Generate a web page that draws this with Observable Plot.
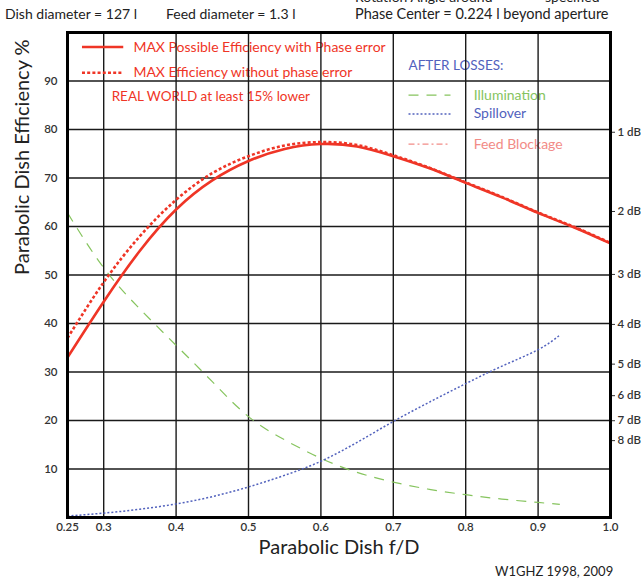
<!DOCTYPE html>
<html>
<head>
<meta charset="utf-8">
<script src="https://cdn.jsdelivr.net/npm/d3@7"></script>
<script src="https://cdn.jsdelivr.net/npm/@observablehq/plot@0.6"></script>
<style>
  html, body { margin: 0; padding: 0; background: #fff; }
  #wrap { position: relative; width: 641px; height: 578px; overflow: hidden; font-family: Lato, sans-serif; }
  .t { position: absolute; white-space: nowrap; color: #222; font-size: 14px; line-height: 1; }
</style>
</head>
<body>
<div id="wrap">
  <div id="chart"></div>
  <div class="t" style="left:355px; top:-10px; line-height:14px; height:14px;">Rotation Angle around</div>
  <div class="t" style="left:545px; top:-10px; line-height:14px; height:14px;">specified</div>
  <div class="t" style="left:5px; top:7px;">Dish diameter = 127 l</div>
  <div class="t" style="left:166px; top:7px;">Feed diameter = 1.3 l</div>
  <div class="t" style="left:355px; top:7px; font-size:14.5px;">Phase Center = 0.224 l beyond aperture</div>
  <div class="t" style="left:495px; top:565px; font-size:13px;">W1GHZ 1998, 2009</div>
</div>
<script>
// ---- data ----
const fd = [0.25, 0.3, 0.35, 0.4, 0.45, 0.5, 0.55, 0.6, 0.65, 0.7, 0.75, 0.8, 0.85, 0.9, 0.95, 1.0];
const effWithPhase = [33, 44.5, 55, 63.5, 69.5, 73.5, 76, 77, 76.5, 74.5, 72, 69, 66, 62.8, 59.8, 56.5];
const effNoPhase   = [37, 48.5, 58, 65.5, 71, 74.5, 76.7, 77.4, 76.8, 74.7, 72.1, 69.1, 66.1, 62.9, 59.9, 56.6];

const fdLoss = [0.25, 0.3, 0.35, 0.4, 0.45, 0.5, 0.55, 0.6, 0.65, 0.7, 0.75, 0.8, 0.85, 0.9, 0.93];
const illumination = [62.8, 51.5, 43, 35.5, 28, 20.8, 16, 12.2, 9.3, 7.3, 5.8, 4.7, 3.8, 3.1, 2.7];
const spillover    = [0.3, 0.9, 1.7, 2.8, 4.3, 6.3, 8.7, 11.6, 15.5, 19.8, 23.8, 27.6, 31.2, 34.6, 37.6];
const blockage     = [0.15, 0.15, 0.15, 0.15, 0.15, 0.15, 0.15, 0.15, 0.15, 0.15, 0.15, 0.15, 0.15, 0.15, 0.15];

const xTicks = [0.25, 0.3, 0.4, 0.5, 0.6, 0.7, 0.8, 0.9, 1.0];
const xTickLabels = ["0.25", "0.3", "0.4", "0.5", "0.6", "0.7", "0.8", "0.9", "1.0"];
const xGrid = [0.3, 0.4, 0.5, 0.6, 0.7, 0.8, 0.9];
const yTicks = [10, 20, 30, 40, 50, 60, 70, 80, 90];
const dbValues = [1, 2, 3, 4, 5, 6, 7, 8];
const dbLabels = ["1 dB", "2 dB", "3 dB", "4 dB", "5 dB", "6 dB", "7 dB", "8 dB"];

// colours & styles
const RED = "#ef3526", GREEN = "#86c45e", BLUE = "#5262bd", PINK = "#f28b86";
const STYLES = {
  phase:   {stroke: RED, strokeWidth: 2.6, strokeDasharray: null},
  nophase: {stroke: RED, strokeWidth: 2.6, strokeDasharray: "3,2.2"},
  illum:   {stroke: GREEN, strokeWidth: 1.2, strokeDasharray: "10,8"},
  spill:   {stroke: BLUE, strokeWidth: 1.5, strokeDasharray: "2,2"},
  block:   {stroke: PINK, strokeWidth: 1.3, strokeDasharray: "6,3,2,3"}
};

// legend
const legendLines = [
  {key: "phase",   x1: 0.270, x2: 0.327, y: 97.0},
  {key: "nophase", x1: 0.270, x2: 0.327, y: 91.7},
  {key: "illum",   x1: 0.721, x2: 0.779, y: 87.1},
  {key: "spill",   x1: 0.721, x2: 0.779, y: 83.2},
  {key: "block",   x1: 0.721, x2: 0.779, y: 77.0}
];
const legendTexts = [
  {x: 0.341, y: 97.0, text: "MAX Possible Efficiency with Phase error", fill: RED, size: 14},
  {x: 0.341, y: 91.7, text: "MAX Efficiency without phase error", fill: RED, size: 14},
  {x: 0.311, y: 86.8, text: "REAL WORLD at least 15% lower", fill: RED, size: 13.5},
  {x: 0.721, y: 93.1, text: "AFTER LOSSES:", fill: BLUE, size: 13.5},
  {x: 0.811, y: 87.1, text: "Illumination", fill: GREEN, size: 14},
  {x: 0.811, y: 83.2, text: "Spillover", fill: BLUE, size: 14},
  {x: 0.811, y: 77.0, text: "Feed Blockage", fill: PINK, size: 14}
];

const main = fd.map((x, i) => ({x, a: effWithPhase[i], b: effNoPhase[i]}));
const loss = fdLoss.map((x, i) => ({x, il: illumination[i], sp: spillover[i], bl: blockage[i]}));
const dbEff = dbValues.map(d => 100 * Math.pow(10, -d / 10));

const lineOpts = (key) => ({...STYLES[key], strokeLinecap: "butt", strokeLinejoin: "round"});
const legendMarks = legendLines.map(l =>
  Plot.link([l], {x1: "x1", x2: "x2", y1: "y", y2: "y", ...lineOpts(l.key)})
);

const chart = Plot.plot({
  width: 641,
  height: 578,
  marginLeft: 67,
  marginRight: 31,
  marginTop: 32,
  marginBottom: 61,
  x: {domain: [0.25, 1.0]},
  y: {domain: [0, 100]},
  style: {fontFamily: "Lato, sans-serif", fontSize: "11px", color: "#333", background: "transparent", overflow: "visible"},
  marks: [
    Plot.text(legendTexts, {x: "x", y: "y", text: "text", fill: "fill", fontSize: d => d.size, textAnchor: "start"}),
    Plot.gridX(xGrid, {stroke: "#1a1a1a", strokeOpacity: 1, strokeWidth: 1.4}),
    Plot.gridY(yTicks, {stroke: "#1a1a1a", strokeOpacity: 1, strokeWidth: 1.4}),
    Plot.axisX({ticks: xTicks, tickFormat: d => xTickLabels[xTicks.indexOf(d)], tickSize: 0, tickPadding: 5, label: null, fontSize: 11.5, fontWeight: 600}),
    Plot.axisY({ticks: yTicks, tickSize: 0, tickPadding: 10, label: null, fontSize: 11.5, fontWeight: 600}),
    Plot.axisY({anchor: "right", ticks: dbEff, tickFormat: d => dbLabels[dbEff.indexOf(d)], tickSize: 4, tickPadding: 3, label: null, fontSize: 11.5, fontWeight: 600}),
    ...legendMarks,
    Plot.line(loss, {x: "x", y: "bl", ...lineOpts("block")}),
    Plot.line(loss, {x: "x", y: "il", curve: "natural", ...lineOpts("illum")}),
    Plot.line(loss, {x: "x", y: "sp", curve: "natural", ...lineOpts("spill")}),
    Plot.line(main, {x: "x", y: "b", curve: "natural", ...lineOpts("nophase")}),
    Plot.line(main, {x: "x", y: "a", curve: "natural", ...lineOpts("phase")}),
    Plot.frame({stroke: "#000", strokeWidth: 3}),
    Plot.text(["Parabolic Dish f/D"], {frameAnchor: "bottom", dy: 36, fontSize: 20, fill: "#222"}),
    Plot.text(["Parabolic Dish Efficiency %"], {frameAnchor: "left", dx: -45, rotate: -90, fontSize: 20, fill: "#222"})
  ]
});
document.getElementById("chart").appendChild(chart);
</script>
</body>
</html>
